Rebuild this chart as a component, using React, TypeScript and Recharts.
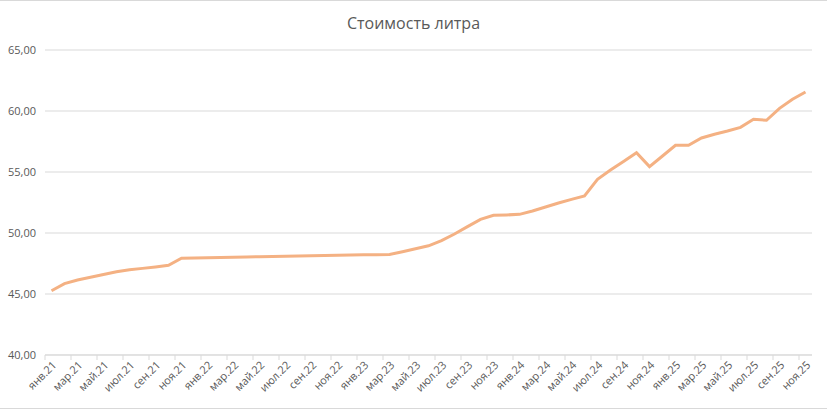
import { LineChart, Line, XAxis, YAxis, CartesianGrid } from 'recharts'

const monthNames = ['янв', 'фев', 'мар', 'апр', 'май', 'июн', 'июл', 'авг', 'сен', 'окт', 'ноя', 'дек']
const years = ['21', '22', '23', '24', '25']

// стоимость литра, янв.21 .. ноя.25
const prices = [
  45.27, 45.85, 46.15, 46.37, 46.6, 46.83, 46.98, 47.1, 47.22, 47.35, 47.93, 47.96,
  47.98, 48.0, 48.02, 48.04, 48.06, 48.08, 48.1, 48.12, 48.14, 48.16, 48.18, 48.2,
  48.21, 48.22, 48.24, 48.47, 48.71, 48.95, 49.37, 49.92, 50.52, 51.12, 51.45, 51.48,
  51.53, 51.8, 52.13, 52.46, 52.76, 53.03, 54.4, 55.16, 55.87, 56.58, 55.44, 56.31,
  57.19, 57.19, 57.79, 58.09, 58.36, 58.66, 59.32, 59.24, 60.22, 60.96, 61.56
]

const yTicks = [40, 45, 50, 55, 60, 65]

const months = years.flatMap(y => monthNames.map(m => `${m}.${y}`)).slice(0, prices.length)
const data = months.map((month, i) => ({ month, price: prices[i] }))

const FONT = '"Open Sans", sans-serif'
const TEXT = '#595959'
const GRID = '#d9d9d9'

function MonthTick(props: any) {
  const { x, y, payload } = props
  return (
    <g transform={`translate(${x},${y})`}>
      <line x1={-6.5} y1={0} x2={-6.5} y2={5} stroke={GRID} />
      <text
        x={3}
        y={8}
        dy="0.35em"
        textAnchor="end"
        transform="rotate(-45 3 8)"
        fill={TEXT}
        fontSize={11}
        fontFamily={FONT}
      >
        {payload.value}
      </text>
    </g>
  )
}

export default function App() {
  return (
    <div style={{ position: 'relative', width: 827, height: 410, background: '#fff' }}>
      <style>{'body { margin: 0; }'}</style>
      <div style={{ position: 'absolute', left: 0, right: 0, top: 0, borderTop: `1px solid ${GRID}` }} />
      <div style={{ position: 'absolute', left: 0, right: 0, top: 408, borderTop: `1px solid ${GRID}` }} />
      <div
        style={{
          position: 'absolute',
          top: 12,
          width: '100%',
          textAlign: 'center',
          fontFamily: FONT,
          fontSize: 16,
          color: TEXT
        }}
      >
        Стоимость литра
      </div>
      <LineChart
        width={827}
        height={410}
        data={data}
        margin={{ top: 50, right: 15, left: 0, bottom: 10 }}
      >
        <CartesianGrid vertical={false} stroke={GRID} />
        <XAxis
          dataKey="month"
          interval={1}
          height={45}
          padding={{ left: 6.5, right: 6.5 }}
          axisLine={{ stroke: GRID }}
          tickLine={false}
          tickSize={0}
          tickMargin={0}
          tick={<MonthTick />}
        />
        <YAxis
          width={45}
          domain={[40, 65]}
          ticks={yTicks}
          axisLine={false}
          tickLine={false}
          tickMargin={3}
          tick={{ fill: TEXT, fontSize: 11, fontFamily: FONT }}
          tickFormatter={(v: number) => v.toFixed(2).replace('.', ',')}
        />
        <Line
          type="linear"
          dataKey="price"
          stroke="#F4B183"
          strokeWidth={3}
          dot={false}
          isAnimationActive={false}
        />
      </LineChart>
    </div>
  )
}
